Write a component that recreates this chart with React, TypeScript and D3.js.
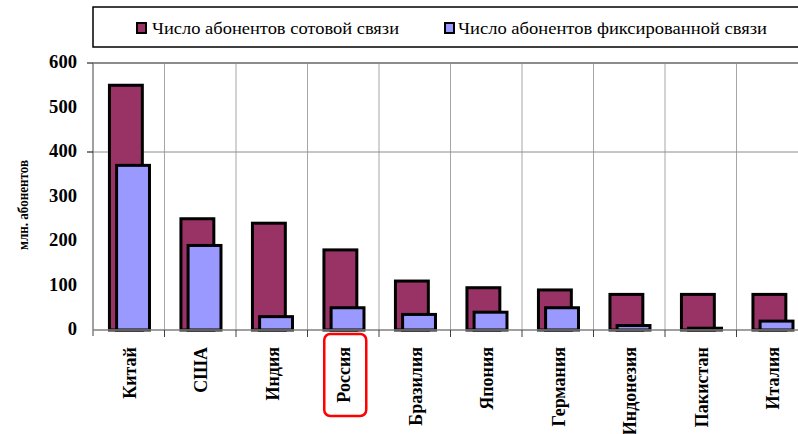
import React from 'react';
import * as d3 from 'd3';

const countries = ["Китай", "США", "Индия", "Россия", "Бразилия", "Япония", "Германия", "Индонезия", "Пакистан", "Италия"];
const mobile = [550, 250, 240, 180, 110, 95, 90, 80, 80, 80];
const fixed = [370, 190, 30, 50, 35, 40, 50, 10, 4, 20];
const yTicks = [0, 100, 200, 300, 400, 500, 600];
const seriesNames = ["Число абонентов сотовой связи", "Число абонентов фиксированной связи"];
const highlighted = "Россия";

const W = 798;
const H = 434;
const left = 93;
const top = 63;
const bottom = 330;
const txt = { fontFamily: '"Liberation Serif"' };

export default function App() {
    const x = d3.scaleBand<string>()
        .domain(countries)
        .range([left, left + 715])
        .padding(0);
    const y = d3.scaleLinear()
        .domain([0, 600])
        .range([bottom, top]);
    const bw = x.bandwidth();
    const barW = bw * 0.46;

    return (
        <svg width={W} height={H} style={{ position: 'absolute', left: 0, top: 0, background: '#fff' }}>
            <rect x={0} y={0} width={W} height={H} fill="#fff" />

            {/* legend */}
            <rect x={93} y={7} width={730} height={40} fill="#fff" stroke="#000" strokeWidth={1.5} />
            <rect x={137} y={23} width={9} height={10} fill="#993366" stroke="#000" strokeWidth={2} />
            <text x={152} y={34} fontSize={17} style={txt} textLength={247} lengthAdjust="spacingAndGlyphs">{seriesNames[0]}</text>
            <rect x={445} y={23} width={9} height={10} fill="#9999FF" stroke="#000" strokeWidth={2} />
            <text x={458} y={34} fontSize={17} style={txt} textLength={309} lengthAdjust="spacingAndGlyphs">{seriesNames[1]}</text>

            {/* gridlines */}
            {countries.slice(1).map(c => (
                <line key={c} x1={x(c)} x2={x(c)} y1={top} y2={bottom} stroke="#a6a6a6" strokeWidth={1} />
            ))}
            <line x1={left} x2={W} y1={y(400)} y2={y(400)} stroke="#8c8c8c" strokeWidth={1} />
            <line x1={left} x2={W} y1={y(600)} y2={y(600)} stroke="#8c8c8c" strokeWidth={2} />

            {/* bars */}
            {countries.map((c, i) => (
                <g key={c}>
                    <rect x={(x(c) as number) + bw * 0.23} y={y(mobile[i])} width={barW}
                        height={bottom - y(mobile[i])} fill="#993366" stroke="#000" strokeWidth={3} />
                    <rect x={(x(c) as number) + bw * 0.33} y={y(fixed[i])} width={barW}
                        height={bottom - y(fixed[i])} fill="#9999FF" stroke="#000" strokeWidth={3} />
                </g>
            ))}

            {/* axes */}
            <line x1={left} x2={left} y1={top} y2={bottom + 6} stroke="#808080" strokeWidth={1.5} />
            <line x1={left} x2={W} y1={bottom} y2={bottom} stroke="#808080" strokeWidth={1.5} />
            {countries.slice(1).map(c => (
                <line key={c} x1={x(c)} x2={x(c)} y1={bottom} y2={bottom + 7} stroke="#404040" strokeWidth={1} />
            ))}
            {[400, 600].map(v => (
                <line key={v} x1={left - 6} x2={left} y1={y(v)} y2={y(v)} stroke="#000" strokeWidth={1} />
            ))}
            {yTicks.map(v => (
                <text key={v} x={77} y={y(v) + 5} textAnchor="end" fontSize={18} fontWeight="bold" style={txt}
                    textLength={String(v).length * 9.3} lengthAdjust="spacingAndGlyphs">{v}</text>
            ))}
            <text transform={`translate(28,205) rotate(-90)`} textAnchor="middle" fontSize={15} fontWeight="bold"
                style={txt} textLength={90} lengthAdjust="spacingAndGlyphs">
                млн. абонентов
            </text>

            {countries.map(c => (
                <text key={c} transform={`translate(${(x(c) as number) + bw / 2 + 7},347) rotate(-90)`}
                    textAnchor="end" fontSize={18} fontWeight="bold" style={txt}>{c}</text>
            ))}

            {/* highlight */}
            <rect x={(x(highlighted) as number) + bw / 2 - 19} y={334} width={42} height={82} rx={6}
                fill="none" stroke="#ff0000" strokeWidth={2.5} />
        </svg>
    );
}
